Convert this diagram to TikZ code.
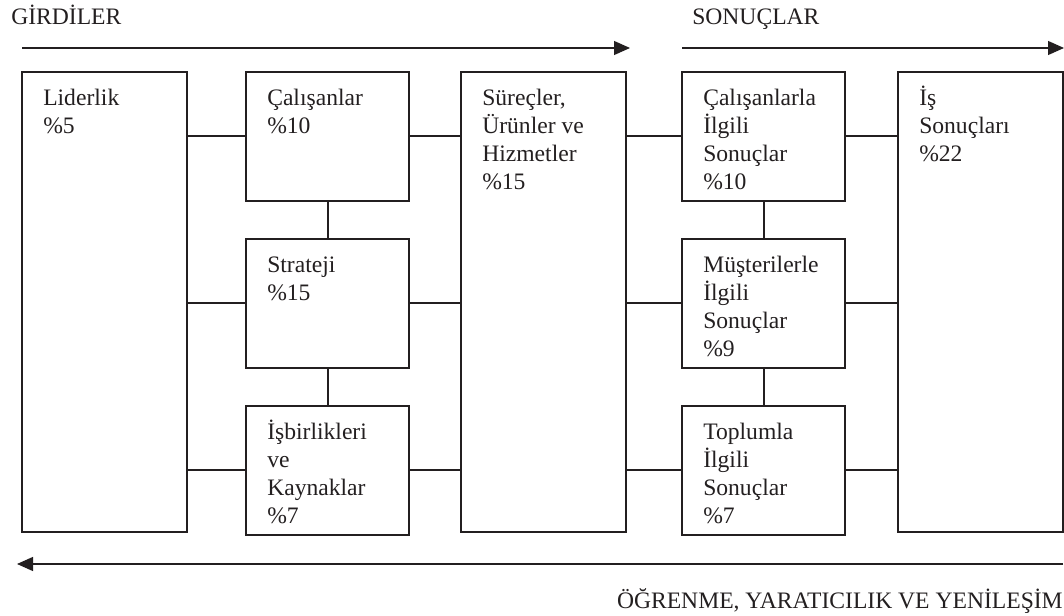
\documentclass[tikz,border=0pt]{standalone}
\usepackage{fontspec}
\setmainfont{Liberation Serif}
\usepackage{xcolor}
\definecolor{ink}{RGB}{35,31,32}
\usetikzlibrary{arrows.meta,positioning}
\newcommand{\tstrut}{\rule{0pt}{16pt}}

\begin{document}
\begin{tikzpicture}[
  font=\fontsize{17.7}{21}\selectfont,
  bigbox/.style={rectangle, draw=ink, line width=1.8pt, outer sep=0pt, inner sep=0pt,
                 minimum width=123.75pt, minimum height=345pt},
  smallbox/.style={rectangle, draw=ink, line width=1.8pt, outer sep=0pt, inner sep=0pt,
                   minimum width=122.25pt, minimum height=96.75pt},
  txt/.style={anchor=north west, align=left, inner sep=0pt, text=ink,
              xshift=15.75pt, yshift=-8.75pt},
  link/.style={draw=ink, line width=1.5pt},
  flow/.style={draw=ink, line width=0.9pt, -{Triangle[length=12pt, width=10.5pt]}},
  heading/.style={text=ink, inner sep=0pt}
]
  \useasboundingbox (0,0) rectangle (798pt,-462pt);
  % Girdiler (enablers)
  \node[bigbox, anchor=north west, label={[txt]north west:{\tstrut Liderlik\\\%5}}] (lid) at (16.5pt,-54pt) {};
  \node[smallbox, right=44.25pt of lid.north east, anchor=north west,
        label={[txt]north west:{\tstrut Çalışanlar\\\%10}}] (cal) {};
  \node[smallbox, below=28.5pt of cal, label={[txt]north west:{\tstrut Strateji\\\%15}}] (str) {};
  \node[smallbox, below=28.5pt of str,
        label={[txt]north west:{\tstrut İşbirlikleri\\ve\\Kaynaklar\\\%7}}] (isb) {};
  \node[bigbox, right=39pt of cal.north east, anchor=north west,
        label={[txt]north west:{\tstrut Süreçler,\\Ürünler ve\\Hizmetler\\\%15}}] (sur) {};
  % Sonuclar (results)
  \node[smallbox, right=42pt of sur.north east, anchor=north west,
        label={[txt]north west:{\tstrut Çalışanlarla\\İlgili\\Sonuçlar\\\%10}}] (cil) {};
  \node[smallbox, below=28.5pt of cil,
        label={[txt]north west:{\tstrut Müşterilerle\\İlgili\\Sonuçlar\\\%9}}] (mil) {};
  \node[smallbox, below=28.5pt of mil,
        label={[txt]north west:{\tstrut Toplumla\\İlgili\\Sonuçlar\\\%7}}] (til) {};
  \node[bigbox, right=39.75pt of cil.north east, anchor=north west,
        label={[txt]north west:{\tstrut İş\\Sonuçları\\\%22}}] (iss) {};
  % links between the boxes
  \foreach \b in {cal,str,isb} {
    \draw[link] (lid.east |- \b.west) -- (\b.west);
    \draw[link] (\b.east) -- (sur.west |- \b.east);
  }
  \foreach \b in {cil,mil,til} {
    \draw[link] (sur.east |- \b.west) -- (\b.west);
    \draw[link] (\b.east) -- (iss.west |- \b.east);
  }
  \draw[link] (cal.south) -- (str.north); \draw[link] (str.south) -- (isb.north);
  \draw[link] (cil.south) -- (mil.north); \draw[link] (mil.south) -- (til.north);
  % arrows on top and bottom
  \coordinate (in-s) at ([yshift=18pt]lid.north west);
  \coordinate (in-e) at ([xshift=3pt]in-s -| sur.east);
  \coordinate (out-s) at (in-s -| cil.west);
  \coordinate (out-e) at ([xshift=0.75pt]in-s -| iss.east);
  \coordinate (fb-s) at ([yshift=-24pt]iss.south east);
  \coordinate (fb-e) at ([yshift=-24pt, xshift=-3.75pt]lid.south west);
  \draw[flow] (in-s) -- (in-e);
  \draw[flow] (out-s) -- (out-e);
  \draw[flow] (fb-s) -- (fb-e);
  \node[heading, anchor=base west] (girdi) at ([xshift=-8.25pt, yshift=17.25pt]in-s) {GİRDİLER};
  \node[heading, anchor=base west] (sonuc) at ([xshift=7.5pt, yshift=17.25pt]out-s) {SONUÇLAR};
  \node[heading, anchor=base east] (ogren) at ([yshift=-33pt]fb-s) {ÖĞRENME, YARATICILIK VE YENİLEŞİM};
\end{tikzpicture}
\end{document}
